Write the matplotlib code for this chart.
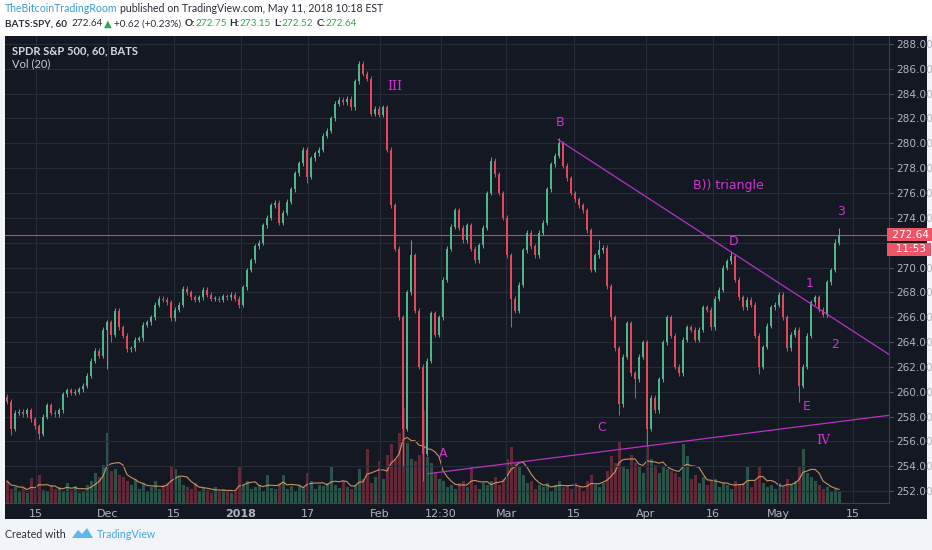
import matplotlib
matplotlib.use("Agg")
import matplotlib.pyplot as plt
from matplotlib.patches import Rectangle, Polygon
import numpy as np
import pandas as pd

first_open = 259.6
closes = [
    259.2, 257.0, 258.3, 258.4, 258.2, 258.5, 257.8, 257.2, 256.6, 258.0,
    258.9, 258.3, 258.2, 258.5, 259.8, 260.1, 259.9, 260.0, 260.2, 260.5,
    261.3, 262.5, 263.3, 262.9, 265.0, 265.6, 264.6, 266.5, 265.2, 264.5,
    263.4, 263.5, 264.2, 264.3, 265.4, 265.6, 266.0, 267.0, 267.5, 267.4,
    267.2, 265.9, 266.6, 267.0, 268.3, 268.0, 267.6, 267.4, 267.6, 268.2,
    267.8, 267.5, 267.5, 267.4, 267.7, 267.6, 267.8, 267.5, 267.0, 268.4,
    269.8, 270.6, 271.7, 272.0, 273.4, 274.0, 275.0, 275.2, 273.6, 274.4,
    275.3, 276.3, 277.6, 278.4, 279.5, 277.3, 278.8, 279.2, 279.5, 280.6,
    281.0, 282.0, 283.2, 283.5, 283.3, 283.6, 282.9, 285.0, 286.4, 285.6,
    285.2, 282.4, 282.8, 282.3, 282.9, 279.5, 275.0, 271.5, 266.0, 257.0,
    268.0, 271.0, 266.5, 262.0, 255.0, 262.5, 266.3, 264.6, 266.0, 269.0,
    271.5, 273.3, 274.6, 273.2, 272.2, 273.4, 271.5, 270.6, 271.8, 273.2,
    276.0, 278.6, 277.5, 276.0, 274.0, 271.0, 267.5, 266.5, 268.6, 271.4,
    272.8, 271.7, 271.0, 272.8, 273.6, 276.3, 278.3, 279.0, 280.0, 278.2,
    277.2, 276.0, 275.5, 275.0, 274.6, 273.0, 269.8, 271.0, 271.4, 271.6,
    268.5, 266.0, 263.5, 259.0, 262.8, 265.5, 261.5, 261.0, 262.8, 264.0,
    257.0, 259.5, 258.5, 261.0, 264.0, 266.0, 264.5, 262.0, 261.5, 264.2,
    265.2, 265.0, 264.2, 265.0, 266.8, 266.6, 265.2, 267.5, 268.2, 270.0,
    270.5, 270.9, 269.0, 267.6, 266.8, 267.4, 267.0, 264.5, 262.0, 263.6,
    265.3, 266.8, 267.0, 267.8, 266.0, 263.5, 264.6, 265.0, 260.5, 262.0,
    264.5, 267.2, 267.6, 266.6, 266.2, 268.8, 269.8, 272.0, 272.64,
]
spike_lows = {1: 256.5, 8: 256.2, 25: 261.8, 26: 264.0, 58: 266.7, 75: 276.8,
              99: 254.0, 104: 252.8, 126: 265.2, 153: 258.1, 157: 259.5,
              160: 255.6, 188: 261.4, 198: 259.2}
spike_highs = {88: 286.65, 101: 272.2, 121: 278.9, 138: 280.4, 148: 272.2,
               181: 271.3, 207: 272.3, 208: 273.15}
volume = [
    22, 14, 16, 12, 15, 10, 25, 14, 28, 13,
    12, 18, 14, 16, 11, 20, 13, 17, 10, 12,
    18, 22, 30, 26, 38, 70, 32, 34, 28, 26,
    22, 18, 24, 14, 20, 12, 16, 22, 14, 18,
    20, 36, 34, 26, 18, 16, 14, 20, 12, 15,
    13, 10, 16, 11, 14, 12, 10, 13, 36, 18,
    22, 14, 16, 18, 12, 28, 15, 14, 20, 28,
    14, 17, 12, 18, 16, 30, 22, 14, 18, 17,
    20, 36, 18, 15, 22, 16, 14, 18, 34, 24,
    54, 20, 26, 42, 24, 48, 59, 44, 70, 95,
    60, 44, 42, 48, 92, 46, 40, 30, 24, 22,
    16, 18, 14, 20, 22, 16, 37, 18, 14, 20,
    18, 22, 26, 18, 24, 44, 56, 40, 36, 28,
    20, 22, 14, 18, 16, 20, 12, 18, 22, 16,
    18, 14, 20, 16, 12, 22, 28, 18, 16, 20,
    32, 47, 40, 62, 36, 34, 48, 40, 36, 30,
    57, 44, 38, 30, 36, 34, 32, 30, 26, 59,
    47, 24, 28, 20, 26, 18, 22, 24, 16, 20,
    18, 14, 22, 18, 20, 37, 16, 22, 37, 20,
    16, 18, 14, 20, 16, 24, 18, 22, 36, 54,
    30, 26, 22, 18, 14, 16, 12, 14, 12,
]

tick_pos = [7.25, 25.25, 41.75, 58.5, 75.25, 93.25, 108.5, 124.75, 141.75,
            159.75, 176.5, 192.75, 211.5]
tick_labels = ["15", "Dec", "15", "2018", "17", "Feb", "12:30", "Mar", "15",
               "Apr", "16", "May", "15"]

# wave annotations (bar index, price)
upper_line = ([137.75, 220.5], [280.3, 263.0])
lower_line = ([105.25, 220.5], [253.4, 258.1])
wave_labels = [("III", 97.0, 284.6), ("B", 138.25, 281.7), ("B)) triangle", 171.5, 276.6),
               ("3", 208.5, 274.5), ("D", 181.75, 272.1), ("1", 200.75, 268.7),
               ("2", 207.0, 263.8), ("E", 200.0, 258.8), ("C", 148.75, 257.1),
               ("IV", 204.0, 256.1), ("A", 109.0, 255.0)]

last_price = 272.64

BG = "#141823"
GRID = "#272c38"
UP = "#4fb58a"
DOWN = "#e3475c"
AXTXT = "#b2b5be"
MAGENTA = "#cf35cf"
HEAD_FONT = ["Lato", "DejaVu Sans"]

W, H = 932, 550
fig = plt.figure(figsize=(W / 100, H / 100), dpi=100, facecolor="#f1f4f8")


def fx(px):
    return px / W


def fy(py):
    return 1 - py / H


fig.patches.append(Rectangle((0, fy(36)), 1, 36 / H, transform=fig.transFigure,
                             fc="white", ec="none", zorder=-2))
fig.patches.append(Rectangle((fx(5), fy(519)), 922 / W, 483 / H, transform=fig.transFigure,
                             fc=BG, ec="none", zorder=-2))

rect = [fx(5), fy(503), 884 / W, 467 / H]
ax_vol = fig.add_axes(rect)
ax = fig.add_axes(rect, sharex=ax_vol)
ax_vol.set_facecolor("none")
ax.set_facecolor("none")

n = len(closes)
x = np.arange(n)
c = np.array(closes)
o = np.r_[first_open, c[:-1]]
up = c >= o
colors = np.where(up, UP, DOWN)
hi = np.maximum(o, c) + 0.2
lo = np.minimum(o, c) - 0.2
for k, v in spike_highs.items():
    hi[k] = v
for k, v in spike_lows.items():
    lo[k] = v

# volume
ax_vol.bar(x, volume, width=0.75, color=colors, alpha=0.38, linewidth=0)
ax_vol.plot(x, pd.Series(volume).rolling(5, min_periods=1).mean(), color="#e8a66a",
            lw=0.8, alpha=0.85)
ax_vol.set_ylim(0, 467)
ax_vol.axis("off")

# grid
for t in tick_pos:
    ax.axvline(t, color=GRID, lw=0.8, zorder=0)
for p in np.arange(252, 289, 2):
    ax.axhline(p, color=GRID, lw=0.8, zorder=0)

ax.vlines(x, lo, hi, colors=colors, lw=0.7, zorder=2)
body = np.abs(c - o)
ax.bar(x, np.maximum(body, 0.08), bottom=np.minimum(o, c), width=0.55, color=colors,
       linewidth=0, zorder=3)

ax.axhline(last_price, color="#c24a5e", lw=0.8, zorder=1)

ax.plot(*upper_line, color="#b533c6", lw=0.9, zorder=4)
ax.plot(*lower_line, color="#b533c6", lw=0.9, zorder=4)
for s, bx, by in wave_labels:
    fam = "DejaVu Serif" if s in ("III", "IV") else "DejaVu Sans"
    ax.text(bx, by, s, color=MAGENTA, fontsize=9, family=fam, ha="left" if len(s) > 3 else "center",
            va="center", zorder=5)

ax.set_xlim(-0.5, 220.5)
ax.set_ylim(251.04, 288.64)
ax.set_xticks(tick_pos)
ax.set_xticklabels(tick_labels)
for lab in ax.get_xticklabels():
    if lab.get_text() == "2018":
        lab.set_fontweight("bold")
price_ticks = np.arange(252, 289, 2)
ax.yaxis.tick_right()
ax.set_yticks(price_ticks)
# 272.00 sits under the last-price badge, as in TradingView
ax.set_yticklabels(["" if v == 272 else f"{v:.2f}" for v in price_ticks])
ax.tick_params(axis="x", length=0, pad=4, labelsize=8, labelcolor=AXTXT)
ax.tick_params(axis="y", length=3, pad=2, labelsize=7.6, labelcolor=AXTXT, color="#555a66")
for side in ("top", "left"):
    ax.spines[side].set_visible(False)
for side in ("right", "bottom"):
    ax.spines[side].set_color("#3c414d")
    ax.spines[side].set_linewidth(0.8)

ax.text(1.0, last_price, " 272.64 ", transform=ax.get_yaxis_transform(), ha="left",
        va="center", color="white", fontsize=7.6, zorder=10, clip_on=False,
        bbox=dict(boxstyle="square,pad=0.15", fc="#ef5466", ec="none"))
ax.annotate("  11:53 ", xy=(1.0, last_price), xycoords=ax.get_yaxis_transform(),
            xytext=(0, -10.5), textcoords="offset points", ha="left", va="center",
            color="white", fontsize=7.6, zorder=10, annotation_clip=False,
            bbox=dict(boxstyle="square,pad=0.15", fc="#ef5466", ec="none"))

fig.text(fx(12), fy(51), "SPDR S&P 500, 60, BATS", color="#d6d8de", fontsize=8,
         weight="bold", va="center", family=HEAD_FONT)
fig.text(fx(12), fy(64), "Vol (20)", color="#c9ccd4", fontsize=8, va="center",
         family=HEAD_FONT)

renderer = fig.canvas.get_renderer()


def seq_text(px, py, parts, size):
    for s, col, wt, gap in parts:
        px += gap
        t = fig.text(fx(px), fy(py), s, color=col, weight=wt, fontsize=size,
                     va="center", family=HEAD_FONT)
        px += t.get_window_extent(renderer).width


DARK = "#2a2e39"
GREEN = "#2fa84f"
BLUE = "#3a9ad9"
seq_text(5, 9, [("TheBitcoinTradingRoom", BLUE, "normal", 0),
                ("published on TradingView.com, May 11, 2018 10:18 EST", DARK, "normal", 3)], 7.6)
seq_text(5, 24, [("BATS:SPY, 60", DARK, "bold", 0), ("272.64", DARK, "normal", 4),
                 ("\u25B2", GREEN, "normal", 2), ("+0.62 (+0.23%)", DARK, "normal", 2),
                 ("O:", DARK, "bold", 3), ("272.75", GREEN, "normal", 0),
                 ("H:", DARK, "bold", 3), ("273.15", GREEN, "normal", 0),
                 ("L:", DARK, "bold", 3), ("272.52", GREEN, "normal", 0),
                 ("C:", DARK, "bold", 3), ("272.64", GREEN, "normal", 0)], 7.2)

fig.text(fx(5), fy(535), "Created with", color=DARK, fontsize=7.7, va="center",
         family=HEAD_FONT)
logo = [(72, 538), (78, 530), (82, 534), (87, 528), (93, 538)]
fig.patches.append(Polygon([(fx(a), fy(b)) for a, b in logo], closed=True,
                           transform=fig.transFigure, fc="#5bb8ea", ec="none"))
fig.text(fx(97), fy(535), "TradingView", color="#49a8e0", fontsize=7.7, va="center",
         family=HEAD_FONT)

fig.savefig("out.png", dpi=100, facecolor=fig.get_facecolor())
